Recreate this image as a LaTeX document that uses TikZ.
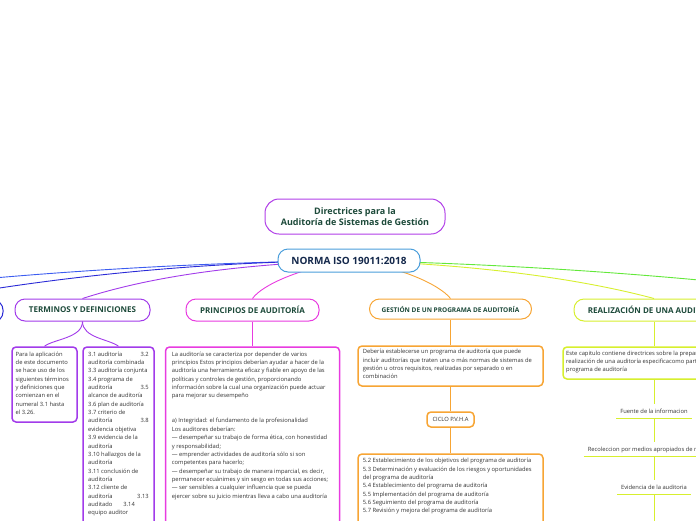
\documentclass[tikz,border=0pt]{standalone}
\usepackage{fontspec}
\setmainfont{Open Sans}
\usepackage{xcolor}
\usepackage{tikz}
\usetikzlibrary{positioning,backgrounds,calc}
\definecolor{TitlePurple}{HTML}{B13FE8}
\definecolor{RootBlue}{HTML}{4A9EDB}
\definecolor{RootNavy}{HTML}{14284B}
\definecolor{TextGreen}{HTML}{1D4A3A}
\definecolor{BodyText}{HTML}{333333}
\definecolor{TermPurple}{HTML}{A23BEA}
\definecolor{PrinMagenta}{HTML}{E83BE0}
\definecolor{GestOrange}{HTML}{F7A534}
\definecolor{RealLime}{HTML}{D7EF2E}
\definecolor{BlueA}{HTML}{3C5CF0}
\definecolor{BlueB}{HTML}{2A2AD6}
\definecolor{GreenLine}{HTML}{63E83A}
\newcommand{\termrow}[2]{\hbox to 60.5pt{#1\hfill #2}}

\begin{document}
\begin{tikzpicture}[x=1pt, y=-1pt,
    every node/.style={font=\fontsize{5.8}{8.35}\selectfont, text=BodyText},
    topic/.style={draw, rounded corners=10pt, line width=1pt, fill=white,
      font=\bfseries\fontsize{8}{9}\selectfont, text=TextGreen, minimum height=22pt},
    card/.style={draw, rounded corners=4pt, line width=1.5pt, fill=white, inner sep=0pt},
    cardtext/.style={anchor=north west, align=left, inner sep=0pt},
    leaf/.style={inner xsep=4pt, inner ysep=2pt, minimum height=14pt},
    underbar/.style={line width=1.4pt, draw=RealLime},
    branchline/.style={line width=0.9pt}]
  \path[use as bounding box] (0,0) rectangle (696,520);
  \clip (0,0) rectangle (696,520);

  % central topics
  \node[topic, draw=TitlePurple, align=center, minimum width=180pt, minimum height=35pt,
    rounded corners=14pt, font=\bfseries\fontsize{9}{11}\selectfont] (title) at (355,216.5)
    {Directrices para la\\Auditoría de Sistemas de Gestión};
  \node[topic, draw=RootBlue, text=RootNavy, minimum width=142pt, minimum height=23pt,
    font=\bfseries\fontsize{10}{11}\selectfont] (iso) at (349,260.5) {NORMA ISO 19011:2018};

  % main branches
  \node[topic, draw=BlueB, minimum width=146pt] (offleft) at (-70,311) {};
  \node[topic, draw=TermPurple, minimum width=135pt] (terms) at (82.5,310) {TERMINOS Y DEFINICIONES};
  \node[topic, draw=PrinMagenta, minimum width=133pt] (princ) at (252.5,310) {PRINCIPIOS DE AUDITORÍA};
  \node[topic, draw=GestOrange, minimum width=162pt, minimum height=20pt,
    font=\bfseries\fontsize{6.5}{7}\selectfont] (gest) at (450.5,309) {GESTIÓN DE UN PROGRAMA DE AUDITORÍA};
  \node[topic, draw=RealLime, minimum width=160pt] (real) at (654,310) {REALIZACIÓN DE UNA AUDITORÍA};
  \coordinate (farleft) at (-40,281);
  \coordinate (farright) at (730,283);

  % terminos
  \node[card, draw=TermPurple, minimum width=65pt, minimum height=75pt] (defs) at (44.5,384.5) {};
  \node[cardtext] (defs-txt) at (15.5,351.5) {Para la aplicación\\de este documento\\se hace uso de los\\siguientes términos\\y definiciones que\\comienzan en el\\numeral 3.1 hasta\\el 3.26.};
  \node[card, draw=TermPurple, minimum width=71pt, minimum height=193pt] (list) at (118.5,443.5) {};
  \node[cardtext] (list-txt) at (88,351.5) {\termrow{3.1 auditoría}{3.2}\\auditoría combinada\\3.3 auditoría conjunta\\3.4 programa de\\\termrow{auditoría}{3.5}\\alcance de auditoría\\3.6 plan de auditoría\\3.7 criterio de\\\termrow{auditoría}{3.8}\\evidencia objetiva\\3.9 evidencia de la\\auditoría\\3.10 hallazgos de la\\auditoría\\3.11 conclusión de\\auditoría\\3.12 cliente de\\\termrow{auditoría}{3.13}\\auditado\hspace{11pt}3.14\\equipo auditor};

  % principios
  \node[card, draw=PrinMagenta, minimum width=174pt, minimum height=213pt] (princ-box) at (252.5,453.5) {};
  \node[cardtext] (princ-txt) at (171.7,351.5) {La auditoría se caracteriza por depender de varios\\principios Estos principios deberían ayudar a hacer de la\\auditoría una herramienta eficaz y fiable en apoyo de las\\políticas y controles de gestión, proporcionando\\información sobre la cual una organización puede actuar\\para mejorar su desempeño\\[16.7pt]a) Integridad: el fundamento de la profesionalidad\\Los auditores deberían:\\— desempeñar su trabajo de forma ética, con honestidad\\y responsabilidad;\\— emprender actividades de auditoría sólo si son\\competentes para hacerlo;\\— desempeñar su trabajo de manera imparcial, es decir,\\permanecer ecuánimes y sin sesgo en todas sus acciones;\\— ser sensibles a cualquier influencia que se pueda\\ejercer sobre su juicio mientras lleva a cabo una auditoría};

  % gestion del programa
  \node[card, draw=GestOrange, minimum width=185pt, minimum height=40pt] (prog) at (450.5,366) {};
  \node[cardtext] (prog-txt) at (362.7,349.2) {Debería establecerse un programa de auditoría que puede\\incluir auditorías que traten una o más normas de sistemas de\\gestión u otros requisitos, realizadas por separado o en\\combinación};
  \node[card, draw=GestOrange, minimum width=47pt, minimum height=15pt] (ciclo) at (450.5,419.5) {CICLO P.V.H.A};
  \node[card, draw=GestOrange, minimum width=185pt, minimum height=106pt] (steps) at (450.5,507) {};
  \node[cardtext] (steps-txt) at (362.7,458.2) {5.2 Establecimiento de los objetivos del programa de auditoría\\5.3 Determinación y evaluación de los riesgos y oportunidades\\del programa de auditoría\\5.4 Establecimiento del programa de auditoría\\5.5 Implementación del programa de auditoría\\5.6 Seguimiento del programa de auditoría\\5.7 Revisión y mejora del programa de auditoría};

  % realizacion
  \node[card, draw=RealLime, minimum width=182pt, minimum height=32pt] (prep) at (654,363) {};
  \node[cardtext] (prep-txt) at (566,350.5) {Este capitulo contiene directrices sobre la preparación y\\realización de una auditoría especificacomo parte de un\\programa de auditoría};
  \node[leaf] (fuente) at (654,411) {Fuente de la informacion};
  \node[leaf] (recol) at (654,449.5) {Recoleccion por medios apropiados de muestreo};
  \node[leaf] (evid) at (654,487) {Evidencia de la auditoria};
  \coordinate (bottomend) at (654,530);
  \draw[underbar] (fuente.south west) -- (fuente.south east);
  \draw[underbar] (recol.south west) -- (recol.south east);
  \draw[underbar] (evid.south west) -- (evid.south east);

  \begin{scope}[on background layer]
    \clip (0,0) rectangle (696,520);
    \draw[branchline, BlueA] (iso.center) .. controls (230,262) and (100,268) .. (farleft);
    \draw[branchline, BlueB] (iso.center) .. controls (200,262) and (60,276) .. (offleft.north);
    \draw[branchline, TermPurple] (iso.center) .. controls (220,265) and (140,280) .. (terms.north);
    \draw[branchline, PrinMagenta] (iso.center) .. controls (300,268) and (262,285) .. (princ.north);
    \draw[branchline, GestOrange] (iso.center) .. controls (400,266) and (440,285) .. (gest.north);
    \draw[branchline, RealLime] (iso.center) .. controls (500,265) and (600,284) .. (real.north);
    \draw[branchline, GreenLine] (iso.center) .. controls (520,264) and (660,276) .. (farright);
    \draw[branchline, TermPurple] (terms.south) .. controls (82.5,338) and (54,339) .. (defs.north);
    \draw[branchline, TermPurple] (terms.south) .. controls (82.5,338) and (109,339) .. (list.north);
    \draw[branchline, PrinMagenta] (princ.south) -- (princ-box.north);
    \draw[branchline, GestOrange] (gest.south) -- (prog.north);
    \draw[branchline, GestOrange] (prog.south) -- (ciclo.north);
    \draw[branchline, GestOrange] (ciclo.south) -- (steps.north);
    \draw[branchline, RealLime] (real.south) -- (prep.north);
    \draw[branchline, RealLime] (prep.south) -- (fuente.north);
    \draw[branchline, RealLime] (fuente.south) -- (recol.north);
    \draw[branchline, RealLime] (recol.south) -- (evid.north);
    \draw[branchline, RealLime] (evid.south) -- (bottomend);
  \end{scope}
\end{tikzpicture}
\end{document}
